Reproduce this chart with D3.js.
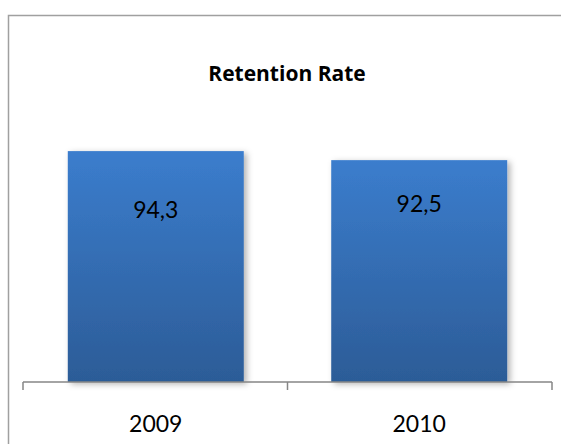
<!DOCTYPE html>
<html>
<head>
<meta charset="utf-8">
<script src="https://cdn.jsdelivr.net/npm/d3@7"></script>
<style>
  html, body { margin: 0; padding: 0; background: #fff; }
  svg { display: block; font-family: Lato, "Open Sans", sans-serif; }
</style>
</head>
<body>
<svg id="chart" width="561" height="444"></svg>
<script>
// chart data
const title = 'Retention Rate';
const years = ['2009', '2010'];
const rates = [94.3, 92.5];
const rateLabels = ['94,3', '92,5'];

const plot = {left: 23, right: 552, top: 122.5, bottom: 382};
// label baseline offset below each bar top (they sit unevenly in the original)
const labelDy = [66.5, 52];

const svg = d3.select('#chart');

const defs = svg.append('defs');
const grad = defs.append('linearGradient')
  .attr('id', 'barGrad')
  .attr('x1', 0).attr('y1', 0).attr('x2', 0).attr('y2', 1);
grad.append('stop').attr('offset', '0%').attr('stop-color', '#3b7dcd');
grad.append('stop').attr('offset', '100%').attr('stop-color', '#2c5c97');

const shadow = defs.append('filter')
  .attr('id', 'barShadow')
  .attr('x', '-10%').attr('y', '-10%').attr('width', '130%').attr('height', '130%');
shadow.append('feDropShadow')
  .attr('dx', 3).attr('dy', 2).attr('stdDeviation', 3)
  .attr('flood-color', '#000').attr('flood-opacity', 0.3);

// outer chart border (cut off at right and bottom like the reference)
svg.append('rect')
  .attr('x', 8.5).attr('y', 15.5)
  .attr('width', 580).attr('height', 460)
  .attr('fill', 'none')
  .attr('stroke', '#a0a0a0')
  .attr('stroke-width', 1.5);

const x = d3.scaleBand()
  .domain(years)
  .range([plot.left, plot.right])
  .paddingInner(0.332)
  .paddingOuter(0.17);

// the value axis does not start at zero
const y = d3.scaleLinear()
  .domain([48.3, 100])
  .range([plot.bottom, plot.top]);

svg.append('text')
  .attr('x', 287)
  .attr('y', 81)
  .attr('text-anchor', 'middle')
  .style('font-family', '"Open Sans", sans-serif')
  .style('font-weight', 'bold')
  .style('font-size', '21px')
  .style('fill', '#000')
  .text(title);

svg.selectAll('rect.bar')
  .data(rates)
  .enter().append('rect')
  .attr('class', 'bar')
  .attr('x', (d, i) => x(years[i]))
  .attr('y', d => y(d))
  .attr('width', x.bandwidth())
  .attr('height', d => y.range()[0] - y(d))
  .attr('fill', 'url(#barGrad)')
  .attr('filter', 'url(#barShadow)');

svg.selectAll('text.val')
  .data(rates)
  .enter().append('text')
  .attr('class', 'val')
  .attr('x', (d, i) => x(years[i]) + x.bandwidth() / 2)
  .attr('y', (d, i) => y(d) + labelDy[i])
  .attr('text-anchor', 'middle')
  .style('font-size', '23px')
  .style('fill', '#000')
  .text((d, i) => rateLabels[i]);

// category axis: ticks between categories
const edges = [plot.left, (plot.left + plot.right) / 2, plot.right];
const axis = svg.append('g').attr('class', 'x axis');
axis.append('line')
  .attr('x1', plot.left).attr('x2', plot.right)
  .attr('y1', plot.bottom).attr('y2', plot.bottom)
  .attr('stroke', '#868686').attr('stroke-width', 1.5);
axis.selectAll('line.tick')
  .data(edges)
  .enter().append('line')
  .attr('class', 'tick')
  .attr('x1', d => d).attr('x2', d => d)
  .attr('y1', plot.bottom).attr('y2', plot.bottom + 8)
  .attr('stroke', '#868686').attr('stroke-width', 1.5);
axis.selectAll('text')
  .data(years)
  .enter().append('text')
  .attr('x', d => x(d) + x.bandwidth() / 2)
  .attr('y', 432)
  .attr('text-anchor', 'middle')
  .style('font-size', '23px')
  .style('fill', '#000')
  .text(d => d);
</script>
</body>
</html>
